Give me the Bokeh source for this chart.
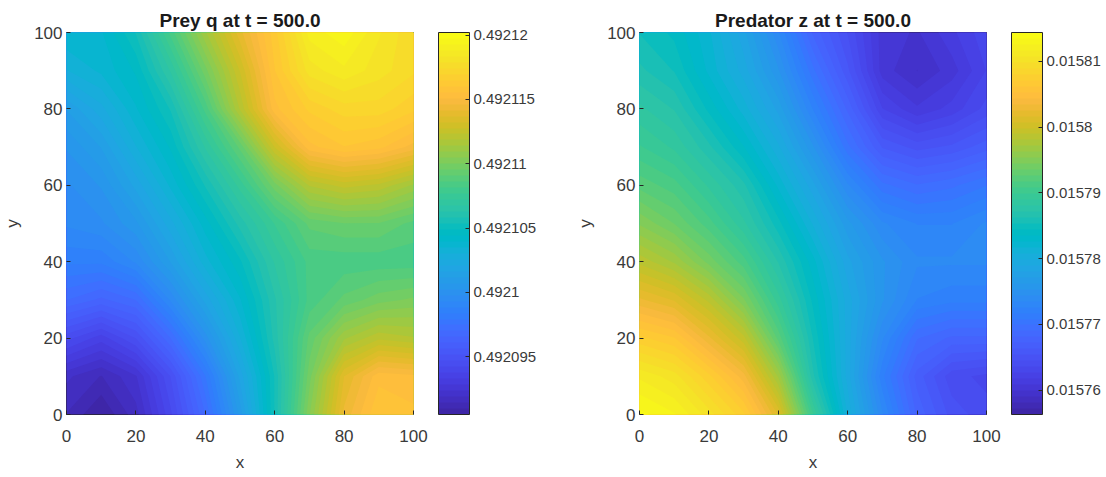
import numpy as np
from bokeh.plotting import figure
from bokeh.models import (LinearColorMapper, ColorBar, FixedTicker, CustomJSTickFormatter, Range1d)
from bokeh.layouts import row
from bokeh.embed import file_html
from bokeh.resources import INLINE

# ---------------- data ----------------
grid_x = [0, 10, 20, 30, 40, 50, 60, 70, 80, 90, 100]
grid_y = [0, 10, 20, 30, 40, 50, 60, 70, 80, 90, 100]

# Prey q: value = Q_BASE + offset * 1e-6 ; rows are y = 0 .. 100, columns x = 0 .. 100
Q_BASE = 0.4921
prey_q_offset_1e6 = [
    [-8.6, -9.5, -8.3, -5.9, -3.0,  0.9,  5.4, 10.4, 14.3, 16.0, 15.7],
    [-8.0, -8.6, -7.7, -5.3, -2.1,  1.8,  5.4,  9.8, 13.7, 15.4, 15.2],
    [-5.6, -6.5, -5.3, -3.0,  0.0,  3.0,  6.0,  9.2, 11.3, 12.2, 11.9],
    [-3.0, -3.6, -3.0, -0.6,  1.8,  3.9,  6.2,  8.3,  9.2,  9.8, 10.1],
    [-1.5, -1.5, -0.6,  1.2,  3.3,  4.8,  6.8,  8.3,  8.3,  8.3,  8.3],
    [-0.6, -0.3,  0.6,  2.4,  4.2,  6.0,  7.7,  9.2,  9.5,  9.5,  8.9],
    [-0.3,  0.3,  1.8,  3.6,  5.4,  7.4,  9.8, 11.9, 12.5, 12.2, 11.3],
    [ 0.3,  1.2,  3.0,  4.5,  6.8,  9.2, 12.8, 15.4, 16.0, 15.7, 14.9],
    [ 1.2,  2.4,  3.9,  5.4,  8.3, 11.9, 15.4, 16.6, 17.2, 17.2, 16.6],
    [ 3.0,  3.6,  4.5,  6.8,  9.8, 12.8, 16.0, 18.1, 18.7, 18.1, 17.5],
    [ 3.9,  3.9,  5.4,  8.3, 11.3, 14.0, 16.3, 19.0, 19.6, 18.4, 17.5],
]

# Predator z: value = Z_BASE + offset * 1e-6
Z_BASE = 0.0158
pred_z_offset_1e6 = [
    [ 13.8,  12.7,  10.3,   7.4,   1.6, -10.0, -19.3, -26.3, -32.1, -35.0, -36.1],
    [ 11.5,  10.3,   7.4,   3.9,  -3.0, -13.5, -20.5, -28.0, -33.2, -36.1, -36.7],
    [  7.4,   6.3,   2.8,  -0.7,  -7.7, -14.7, -20.5, -26.3, -30.9, -32.1, -32.1],
    [  2.8,   1.6,  -1.3,  -5.4, -10.6, -15.8, -20.5, -24.5, -27.4, -28.0, -28.0],
    [ -1.3,  -3.0,  -5.9,  -8.8, -12.9, -17.0, -21.6, -24.5, -26.3, -26.3, -26.3],
    [ -4.8,  -6.5,  -8.8, -11.7, -15.2, -19.3, -23.4, -26.3, -27.4, -27.4, -26.3],
    [ -7.7,  -8.8, -11.2, -13.5, -17.6, -21.6, -26.3, -29.8, -30.9, -30.3, -29.2],
    [-10.0, -11.2, -13.5, -16.4, -19.9, -24.5, -29.8, -33.8, -35.0, -34.4, -33.2],
    [-11.7, -12.9, -15.8, -18.7, -22.2, -27.4, -32.1, -37.3, -39.0, -37.9, -36.1],
    [-13.5, -14.7, -17.6, -20.5, -24.5, -29.8, -34.4, -39.6, -41.0, -39.6, -37.3],
    [-14.7, -15.8, -18.1, -21.6, -26.3, -32.1, -35.6, -39.6, -40.2, -38.5, -36.7],
]

axis_ticks = [0, 20, 40, 60, 80, 100]

q_ticks = [0.492095, 0.4921, 0.492105, 0.49211, 0.492115, 0.49212]
q_tick_labels = ["0.492095", "0.4921", "0.492105", "0.49211", "0.492115", "0.49212"]
q_low, q_high = 0.4920905, 0.4921202

z_ticks = [0.01576, 0.01577, 0.01578, 0.01579, 0.0158, 0.01581]
z_tick_labels = ["0.01576", "0.01577", "0.01578", "0.01579", "0.0158", "0.01581"]
z_low, z_high = 0.0157563, 0.0158144

# ---------------- parula colormap ----------------
_parula = [
    (0.2422, 0.1504, 0.6603), (0.2504, 0.1650, 0.7076), (0.2578, 0.1818, 0.7511), (0.2647, 0.1978, 0.7952),
    (0.2706, 0.2147, 0.8364), (0.2751, 0.2342, 0.8710), (0.2783, 0.2559, 0.8991), (0.2803, 0.2782, 0.9221),
    (0.2813, 0.3006, 0.9414), (0.2810, 0.3228, 0.9579), (0.2795, 0.3447, 0.9717), (0.2760, 0.3667, 0.9829),
    (0.2699, 0.3892, 0.9906), (0.2602, 0.4123, 0.9952), (0.2440, 0.4358, 0.9988), (0.2206, 0.4603, 0.9973),
    (0.1963, 0.4847, 0.9892), (0.1834, 0.5074, 0.9798), (0.1786, 0.5289, 0.9682), (0.1764, 0.5499, 0.9520),
    (0.1687, 0.5703, 0.9359), (0.1540, 0.5902, 0.9218), (0.1460, 0.6091, 0.9079), (0.1380, 0.6276, 0.8973),
    (0.1248, 0.6459, 0.8883), (0.1113, 0.6635, 0.8763), (0.0952, 0.6798, 0.8598), (0.0689, 0.6948, 0.8394),
    (0.0297, 0.7082, 0.8163), (0.0036, 0.7203, 0.7917), (0.0067, 0.7312, 0.7660), (0.0433, 0.7411, 0.7394),
    (0.0964, 0.7500, 0.7120), (0.1408, 0.7584, 0.6842), (0.1717, 0.7670, 0.6554), (0.1938, 0.7758, 0.6251),
    (0.2161, 0.7843, 0.5923), (0.2470, 0.7918, 0.5567), (0.2906, 0.7973, 0.5188), (0.3406, 0.8008, 0.4789),
    (0.3909, 0.8029, 0.4354), (0.4456, 0.8024, 0.3909), (0.5044, 0.7993, 0.3480), (0.5616, 0.7942, 0.3045),
    (0.6174, 0.7876, 0.2612), (0.6720, 0.7793, 0.2227), (0.7242, 0.7698, 0.1910), (0.7738, 0.7598, 0.1646),
    (0.8203, 0.7498, 0.1535), (0.8634, 0.7406, 0.1596), (0.9035, 0.7330, 0.1774), (0.9393, 0.7288, 0.2100),
    (0.9728, 0.7298, 0.2394), (0.9956, 0.7434, 0.2371), (0.9970, 0.7659, 0.2199), (0.9952, 0.7893, 0.2028),
    (0.9892, 0.8136, 0.1885), (0.9786, 0.8386, 0.1766), (0.9676, 0.8639, 0.1643), (0.9610, 0.8890, 0.1537),
    (0.9597, 0.9135, 0.1423), (0.9628, 0.9373, 0.1265), (0.9691, 0.9606, 0.1064), (0.9769, 0.9839, 0.0805),
]
palette = ["#%02x%02x%02x" % tuple(int(round(c * 255)) for c in rgb) for rgb in _parula]

FONT = "Liberation Sans"
TXT = "#262626"
LBL = "#3a3a3a"

fmt_code = """
let best = 0, bd = Infinity;
for (let i = 0; i < tvals.length; i++) {
  const d = Math.abs(tvals[i] - tick);
  if (d < bd) { bd = d; best = i; }
}
return tlabels[best];
"""


def make_panel(title, field, low, high, cticks, clabels, border_left, border_right):
    mapper = LinearColorMapper(palette=palette, low=low, high=high)
    p = figure(frame_width=347, frame_height=382,
               x_range=Range1d(0, 100), y_range=Range1d(0, 100),
               output_backend="svg", toolbar_location=None, title=title,
               min_border_left=border_left, min_border_right=border_right,
               min_border_top=32, min_border_bottom=40,
               background_fill_color="white", border_fill_color="white")

    # Stacked filled contours computed by the library from the grid: layer i fills the
    # region where the field is above colour level i, so higher layers overlay lower ones
    # (no seams between neighbouring colour bands).
    z = np.array(field)
    lv = np.linspace(low, high, len(palette) + 1)
    pad = (high - low) * 0.01
    zmin, zmax = float(z.min()), float(z.max())
    top = max(high, zmax) + pad
    for i, col in enumerate(palette):
        lo_i = float(lv[i]) if i > 0 else min(low, zmin) - pad
        if lo_i >= zmax:
            break
        p.contour(x=grid_x, y=grid_y, z=z, levels=[lo_i, top],
                  fill_color=col, line_color=None)

    p.grid.visible = False
    p.outline_line_color = TXT
    p.outline_line_width = 1
    p.outline_line_alpha = 1

    for ax in (p.xaxis[0], p.yaxis[0]):
        ax.ticker = FixedTicker(ticks=axis_ticks)
        ax.major_tick_in = 4
        ax.major_tick_out = 0
        ax.minor_tick_line_color = None
        ax.axis_line_color = None
        ax.major_tick_line_color = TXT
        ax.major_label_text_font = FONT
        ax.major_label_text_font_size = "17px"
        ax.major_label_text_color = LBL
        ax.axis_label_text_font = FONT
        ax.axis_label_text_font_size = "17px"
        ax.axis_label_text_font_style = "normal"
        ax.axis_label_text_color = LBL
    p.xaxis.axis_label = "x"
    p.yaxis.axis_label = "y"
    p.xaxis.major_label_standoff = 15
    p.xaxis.axis_label_standoff = 8
    p.yaxis.major_label_standoff = 4
    p.yaxis.axis_label_standoff = 9

    p.title.text_font = FONT
    p.title.text_font_size = "19px"
    p.title.text_font_style = "bold"
    p.title.text_color = "#1a1a1a"
    p.title.align = "center"
    p.title.standoff = 4

    cb = ColorBar(color_mapper=mapper,
                  ticker=FixedTicker(ticks=cticks),
                  formatter=CustomJSTickFormatter(args=dict(tvals=cticks, tlabels=clabels), code=fmt_code),
                  width=31, height=382,
                  major_tick_in=4, major_tick_out=0,
                  major_tick_line_color=TXT,
                  minor_tick_line_color=None,
                  bar_line_color=TXT, bar_line_width=1,
                  border_line_color=None,
                  background_fill_color=None,
                  major_label_text_font=FONT,
                  major_label_text_font_size="15px",
                  major_label_text_color=LBL,
                  label_standoff=4,
                  padding=0,
                  location=(25, 0))
    p.add_layout(cb, "right")
    return p


prey_field = (Q_BASE + np.array(prey_q_offset_1e6) * 1e-6).tolist()
pred_field = (Z_BASE + np.array(pred_z_offset_1e6) * 1e-6).tolist()

p1 = make_panel("Prey q at t = 500.0", prey_field, q_low, q_high, q_ticks, q_tick_labels, 56, 146)
p2 = make_panel("Predator z at t = 500.0", pred_field, z_low, z_high, z_ticks, z_tick_labels, 80, 110)

layout = row(p1, p2)
open("out.html", "w").write(file_html(layout, INLINE))
